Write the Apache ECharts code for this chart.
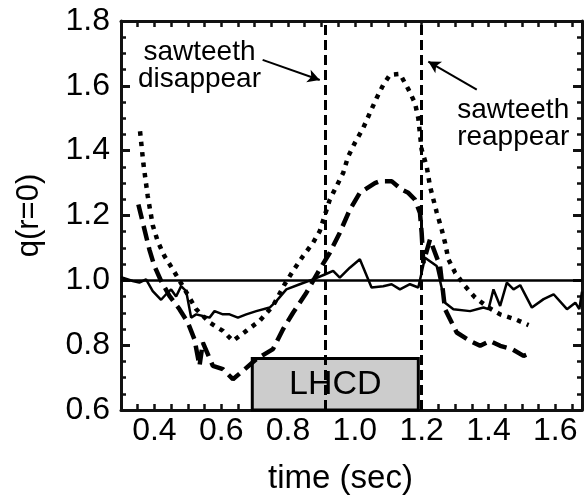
<!DOCTYPE html>
<html><head><meta charset="utf-8">
<script src="https://cdn.jsdelivr.net/npm/echarts@6/dist/echarts.min.js"></script>
<style>html,body{margin:0;padding:0;background:#fff}#c{width:587px;height:500px}</style>
</head><body><div id="c"></div>
<script>
// ---- data ----
const solidT = [0.30,0.335,0.355,0.375,0.395,0.42,0.435,0.45,0.465,0.48,0.495,0.51,0.525,0.545,0.565,0.58,0.605,0.625,0.65,0.675,0.705,0.745,0.765,0.795,0.835,0.875,0.91,0.935,0.955,0.985,1.015,1.05,1.085,1.11,1.135,1.165,1.19,1.21,1.245,1.27,1.295,1.345,1.385,1.40,1.415,1.435,1.455,1.475,1.495,1.53,1.565,1.595,1.635,1.66,1.672,1.68];
const solidQ = [1.01,0.998,0.993,1.003,0.967,0.94,0.957,0.972,0.95,0.982,0.967,0.885,0.895,0.89,0.885,0.905,0.895,0.895,0.885,0.895,0.905,0.916,0.936,0.972,0.988,1.003,1.018,1.029,1.008,1.039,1.065,0.978,0.982,0.988,0.972,0.988,0.978,1.07,1.044,0.931,0.911,0.905,0.916,0.911,0.972,0.921,0.993,0.972,0.985,0.916,0.942,0.957,0.911,0.931,0.911,0.965];
const dashT = [0.352,0.385,0.40,0.42,0.445,0.475,0.50,0.52,0.535,0.545,0.575,0.605,0.635,0.665,0.705,0.755,0.785,0.815,0.855,0.895,0.925,0.955,0.985,1.015,1.06,1.075,1.11,1.14,1.16,1.18,1.195,1.20,1.205,1.225,1.255,1.27,1.305,1.345,1.375,1.405,1.435,1.47,1.505,1.53];
const dashQ = [1.234,1.095,1.044,0.998,0.952,0.911,0.87,0.818,0.736,0.808,0.736,0.726,0.695,0.721,0.757,0.788,0.849,0.90,0.962,1.034,1.085,1.147,1.218,1.27,1.30,1.306,1.306,1.28,1.27,1.249,1.208,1.147,1.054,1.126,1.044,0.911,0.839,0.813,0.798,0.813,0.798,0.788,0.767,0.778];
const dotT = [0.357,0.367,0.38,0.395,0.41,0.43,0.455,0.485,0.525,0.565,0.605,0.635,0.675,0.715,0.755,0.79,0.815,0.845,0.875,0.895,0.925,0.965,0.98,1.0,1.025,1.045,1.065,1.085,1.105,1.135,1.16,1.18,1.19,1.20,1.215,1.225,1.245,1.26,1.27,1.28,1.30,1.33,1.36,1.40,1.435,1.48,1.52];
const dotQ = [1.46,1.36,1.26,1.17,1.12,1.075,1.034,0.982,0.911,0.87,0.844,0.813,0.844,0.875,0.921,0.988,1.029,1.075,1.116,1.152,1.249,1.331,1.382,1.424,1.47,1.516,1.562,1.603,1.634,1.637,1.59,1.547,1.5,1.403,1.352,1.29,1.21,1.157,1.116,1.065,1.024,0.982,0.947,0.916,0.895,0.88,0.862];
const refQ = 1.0;
const sawtoothTimes = [0.91, 1.195];
const lhcdStart = 0.693, lhcdEnd = 1.19, lhcdTop = 0.759;
const annotText = ['sawteeth\ndisappear', 'sawteeth\nreappear'];
const annotT = [0.535, 1.474];
const annotQ = [1.662, 1.482];
const arrowFromT = [0.724, 1.365], arrowFromQ = [1.68, 1.588];
const arrowToT = [0.895, 1.22], arrowToQ = [1.618, 1.675];
const xMin = 0.3, xMax = 1.68, yMin = 0.6, yMax = 1.8;

const FONT = "'Liberation Sans', Arial, sans-serif";
const AX = '#111';
const zip = (a, b) => a.map((v, i) => [v, b[i]]);

const xBase = (pos, showLabel) => ({
  type: 'value', position: pos, min: xMin, max: xMax, interval: 0.05,
  axisLine: { show: true, onZero: false, lineStyle: { color: AX, width: 3 } },
  axisTick: { show: true, inside: true, length: 6, lineStyle: { color: AX, width: 2.5 } },
  splitLine: { show: false },
  axisLabel: {
    show: showLabel, interval: 0, margin: 5, color: '#000', fontSize: 32, fontFamily: FONT,
    formatter: v => (Math.round(v * 100) % 20 === 0 && v > 0.35) ? v.toFixed(1) : ''
  }
});
const yBase = (pos, showLabel) => ({
  type: 'value', position: pos, min: yMin, max: yMax, interval: 0.2,
  axisLine: { show: true, onZero: false, lineStyle: { color: AX, width: 3 } },
  axisTick: { show: true, inside: true, length: 9, lineStyle: { color: AX, width: 3 } },
  minorTick: { show: true, splitNumber: 4, length: 5, lineStyle: { color: AX, width: 2.5 } },
  splitLine: { show: false },
  axisLabel: { show: showLabel, margin: 11, color: '#000', fontSize: 32, fontFamily: FONT, formatter: v => v.toFixed(1) }
});

const xAxis0 = xBase('bottom', true);
Object.assign(xAxis0, { name: 'time (sec)', nameLocation: 'middle', nameGap: 52,
  nameTextStyle: { color: '#000', fontSize: 33, fontFamily: FONT, padding: [0, 22, 0, 0] } });
const yAxis0 = yBase('left', true);
Object.assign(yAxis0, { name: 'q(r=0)', nameLocation: 'middle', nameGap: 76,
  nameTextStyle: { color: '#000', fontSize: 31, fontFamily: FONT } });

const option = {
  animation: false,
  grid: { left: 121, right: 5, top: 21, bottom: 89 },
  xAxis: [xAxis0, xBase('top', false)],
  yAxis: [yAxis0, yBase('right', false)],
  series: [
    { name: 'solid', type: 'line', data: zip(solidT, solidQ), showSymbol: false, symbol: 'none',
      lineStyle: { color: '#000', width: 2.5, type: 'solid' },
      markArea: {
        silent: true,
        itemStyle: { color: '#cccccc', borderColor: '#000', borderWidth: 3, opacity: 1 },
        label: { show: true, position: 'inside', color: '#000', fontSize: 34, fontFamily: FONT, formatter: 'LHCD' },
        data: [[{ coord: [lhcdStart, yMin] }, { coord: [lhcdEnd, lhcdTop] }]]
      },
      markLine: {
        silent: true, symbol: ['none', 'none'], label: { show: false }, emphasis: { disabled: true },
        data: [
          { yAxis: refQ, lineStyle: { color: '#000', width: 2.5, type: 'solid' } },
          ...sawtoothTimes.map(t => ({ xAxis: t, lineStyle: { color: '#000', width: 3, type: [10, 5] } })),
          ...arrowFromT.map((t, i) => [
            { coord: [t, arrowFromQ[i]], symbol: 'none', lineStyle: { color: '#000', width: 2, type: 'solid' } },
            { coord: [arrowToT[i], arrowToQ[i]], symbol: 'arrow', symbolSize: [10, 12] }])
        ]
      },
      markPoint: {
        silent: true, symbol: 'circle', symbolSize: 0,
        label: { show: true, position: 'inside', color: '#000', fontSize: 28, lineHeight: 27, fontFamily: FONT, align: 'center',
          formatter: p => p.name },
        data: annotT.map((t, i) => ({ name: annotText[i], coord: [t, annotQ[i]] }))
      }
    },
    { name: 'dashed', type: 'line', data: zip(dashT, dashQ), showSymbol: false, symbol: 'none',
      lineStyle: { color: '#000', width: 4.5, type: [15, 7], cap: 'butt' } },
    { name: 'dotted', type: 'line', data: zip(dotT, dotQ), showSymbol: false, symbol: 'none',
      lineStyle: { color: '#000', width: 4.5, type: [4.5, 6], cap: 'butt' } }
  ]
};
const chart = echarts.init(document.getElementById('c'), null, { renderer: 'canvas' });
chart.setOption(option);
</script></body></html>
